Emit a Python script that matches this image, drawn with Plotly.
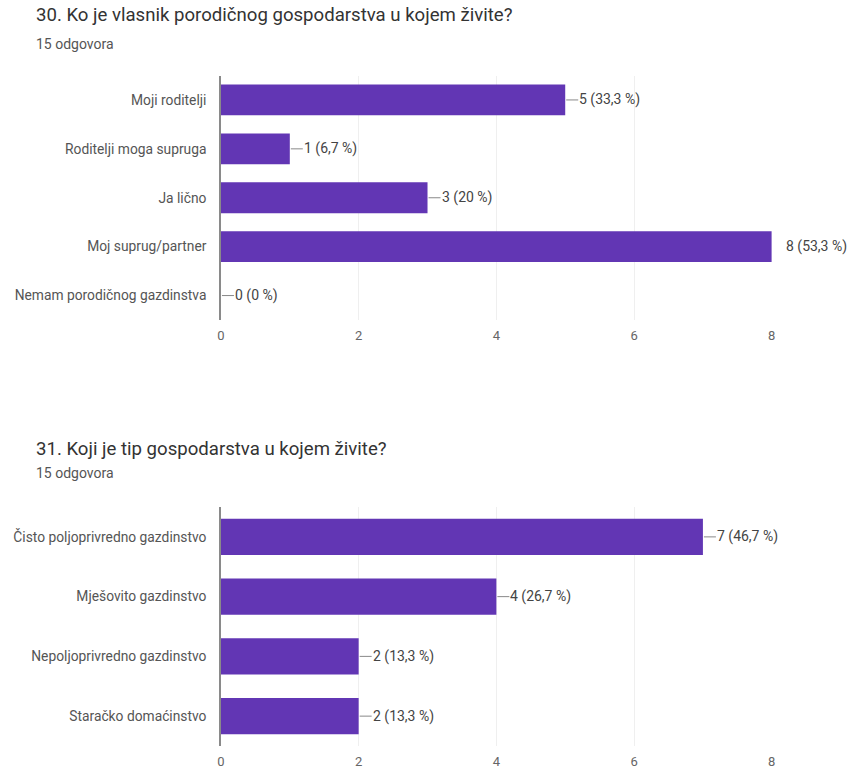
import plotly.graph_objects as go

W, H = 858, 773

title1 = "30. Ko je vlasnik porodičnog gospodarstva u kojem živite?"
subtitle1 = "15 odgovora"
cats1 = ["Moji roditelji", "Roditelji moga supruga", "Ja lično", "Moj suprug/partner", "Nemam porodičnog gazdinstva"]
vals1 = [5, 1, 3, 8, 0]
labels1 = ["5 (33,3 %)", "1 (6,7 %)", "3 (20 %)", "8 (53,3 %)", "0 (0 %)"]

title2 = "31. Koji je tip gospodarstva u kojem živite?"
subtitle2 = "15 odgovora"
cats2 = ["Čisto poljoprivredno gazdinstvo", "Mješovito gazdinstvo", "Nepoljoprivredno gazdinstvo", "Staračko domaćinstvo"]
vals2 = [7, 4, 2, 2]
labels2 = ["7 (46,7 %)", "4 (26,7 %)", "2 (13,3 %)", "2 (13,3 %)"]

xticks = [0, 2, 4, 6, 8]

BAR = "#6236b4"
FONT = "Roboto, Arial, sans-serif"

def py(px):
    return 1 - px / H

fig = go.Figure()
fig.add_trace(go.Bar(x=vals1, y=cats1, orientation="h", marker=dict(color=BAR, line=dict(width=0)),
                     width=0.63, xaxis="x", yaxis="y", hoverinfo="x+y", showlegend=False))
fig.add_trace(go.Bar(x=vals2, y=cats2, orientation="h", marker=dict(color=BAR, line=dict(width=0)),
                     width=0.61, xaxis="x2", yaxis="y2", hoverinfo="x+y", showlegend=False))

xdom = [219 / W, 775 / W]
axis_common = dict(range=[0, 8], tickvals=xticks, showgrid=True, gridcolor="#efefef", gridwidth=1,
                   zeroline=False, showline=False, ticks="", ticklabelstandoff=6,
                   tickfont=dict(family=FONT, size=13, color="#666"), fixedrange=True)
ycommon = dict(autorange="reversed", showline=True, linecolor="#8a8a8a", linewidth=1.5, ticks="",
               ticklabelstandoff=10, tickfont=dict(family=FONT, size=13.8, color="#555"), showgrid=False,
               fixedrange=True)
fig.update_layout(
    width=W, height=H, margin=dict(l=0, r=0, t=0, b=0),
    paper_bgcolor="white", plot_bgcolor="white",
    xaxis=dict(domain=xdom, anchor="y", **axis_common),
    yaxis=dict(domain=[py(320), py(75.5)], categoryorder="array", categoryarray=cats1, **ycommon),
    xaxis2=dict(domain=xdom, anchor="y2", **axis_common),
    yaxis2=dict(domain=[py(746), py(507)], categoryorder="array", categoryarray=cats2, **ycommon),
)

ann = []
shapes = []
for xa, ya, cats, vals, labs in [("x", "y", cats1, vals1, labels1), ("x2", "y2", cats2, vals2, labels2)]:
    for c, v, t in zip(cats, vals, labs):
        shapes.append(dict(type="line", xref=xa, yref=ya, xsizemode="pixel", xanchor=v, x0=1, x1=13,
                           y0=c, y1=c, line=dict(color="#888", width=1)))
        ann.append(dict(x=v, y=c, xref=xa, yref=ya, text=t, showarrow=False, xanchor="left", xshift=12,
                        font=dict(family=FONT, size=14, color="#444")))

for t, s, yt, ys in [(title1, subtitle1, 15, 44), (title2, subtitle2, 449, 473)]:
    ann.append(dict(x=30 / W, y=py(yt), xref="paper", yref="paper", text=t, showarrow=False,
                    xanchor="left", yanchor="middle", font=dict(family=FONT, size=18.6, color="#333")))
    ann.append(dict(x=30 / W, y=py(ys), xref="paper", yref="paper", text=s, showarrow=False,
                    xanchor="left", yanchor="middle", font=dict(family=FONT, size=14, color="#555")))

fig.update_layout(annotations=ann, shapes=shapes)
fig.write_html("out.html", config={"displayModeBar": False},
               post_script="document.body.style.margin='0';document.body.style.padding='0';")
